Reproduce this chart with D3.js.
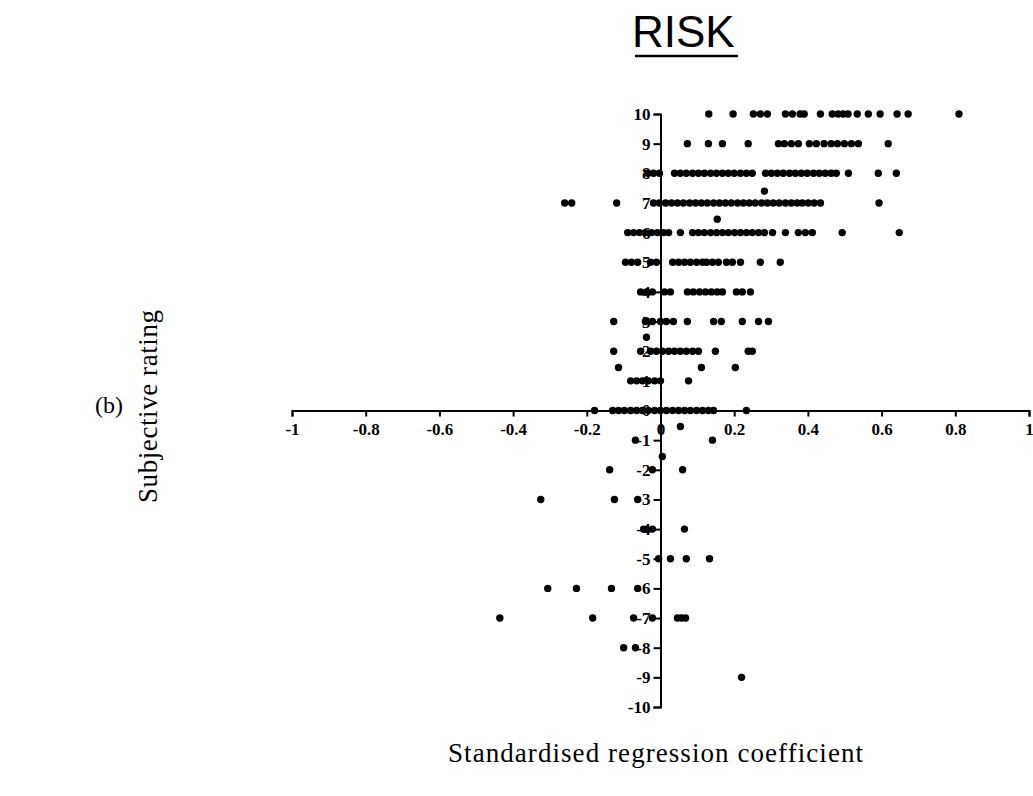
<!DOCTYPE html>
<html>
<head>
    <meta charset="utf-8">
    <title>RISK</title>
    <style>
        body {
            margin: 0;
            background-color: #ffffff;
        }

        svg {
            display: block;
        }

        .tick text {
            font-family: 'Liberation Serif', 'DejaVu Serif', serif;
            font-size: 17px;
            font-weight: bold;
            fill: #000;
        }

        .axis path, .axis line {
            stroke: #000;
            stroke-width: 2px;
        }

        .label {
            font-family: 'Liberation Serif', serif;
            fill: #000;
        }
    </style>
</head>
<body>
    <svg width="1033" height="796"></svg>

<script src="https://cdn.jsdelivr.net/npm/d3@7"></script>
<script>
    // subjective rating rows (y) and the coefficients read along each row (x)
    let ratings = [10, 9, 8, 7.4, 7, 6.45, 6, 5, 4, 3, 2.47, 2, 1.45, 1, 0, -0.54, -1, -1.55, -2, -3, -4, -5, -6, -7, -8, -9]

    let coef10 = [0.131, 0.197, 0.252, 0.271, 0.29, 0.339, 0.358, 0.379, 0.39, 0.434, 0.466, 0.482, 0.496, 0.509, 0.534, 0.564, 0.596, 0.642, 0.672, 0.81]
    let coef9 = [0.073, 0.130, 0.168, 0.238, 0.320, 0.336, 0.355, 0.374, 0.404, 0.423, 0.444, 0.463, 0.48, 0.499, 0.518, 0.537, 0.618]
    let coef8 = [-0.035, -0.019, -0.003, 0.038, 0.054, 0.070, 0.087, 0.103, 0.119, 0.136, 0.152, 0.168, 0.184, 0.2, 0.217, 0.233, 0.249, 0.285, 0.301, 0.317, 0.333, 0.35, 0.366, 0.382, 0.398, 0.415, 0.431, 0.447, 0.463, 0.477, 0.51, 0.591, 0.64]
    let coef7half = [0.282]
    let coef7 = [-0.26, -0.241, -0.119, -0.019, -0.003, 0.014, 0.03, 0.046, 0.062, 0.079, 0.095, 0.111, 0.127, 0.144, 0.16, 0.176, 0.192, 0.209, 0.225, 0.241, 0.257, 0.274, 0.29, 0.306, 0.322, 0.339, 0.355, 0.371, 0.385, 0.401, 0.417, 0.434, 0.593]
    let coef6half = [0.154]
    let coef6 = [-0.089, -0.073, -0.057, -0.041, -0.024, -0.008, 0.008, 0.022, 0.054, 0.087, 0.103, 0.119, 0.136, 0.152, 0.168, 0.184, 0.201, 0.217, 0.233, 0.249, 0.266, 0.282, 0.304, 0.339, 0.374, 0.393, 0.412, 0.493, 0.648]
    let coef5 = [-0.095, -0.079, -0.062, -0.027, -0.011, 0.033, 0.049, 0.065, 0.081, 0.098, 0.114, 0.125, 0.141, 0.157, 0.179, 0.195, 0.217, 0.271, 0.325]
    let coef4 = [-0.054, -0.038, -0.022, 0.011, 0.027, 0.073, 0.089, 0.106, 0.122, 0.138, 0.154, 0.168, 0.206, 0.222, 0.244]
    let coef3 = [-0.127, -0.041, -0.022, 0, 0.016, 0.035, 0.073, 0.144, 0.165, 0.222, 0.266, 0.293]
    let coef2half = [-0.038]
    let coef2 = [-0.127, -0.054, -0.027, -0.011, 0.005, 0.022, 0.038, 0.054, 0.07, 0.087, 0.103, 0.149, 0.238, 0.249]
    let coef1half = [-0.114, 0.111, 0.203]
    let coef1 = [-0.081, -0.065, -0.049, -0.033, -0.016, 0, 0.076]
    let coef0 = [-0.179, -0.13, -0.114, -0.098, -0.081, -0.065, -0.049, -0.033, -0.016, 0, 0.016, 0.033, 0.049, 0.065, 0.081, 0.098, 0.114, 0.13, 0.144, 0.233]
    let coefM0half = [0.054]
    let coefM1 = [-0.068, 0.141]
    let coefM1half = [0.005]
    let coefM2 = [-0.138, -0.022, 0.06]
    let coefM3 = [-0.325, -0.125, -0.062]
    let coefM4 = [-0.046, -0.022, 0.065]
    let coefM5 = [-0.005, 0.027, 0.07, 0.133]
    let coefM6 = [-0.306, -0.228, -0.133, -0.062]
    let coefM7 = [-0.436, -0.184, -0.073, -0.022, 0.046, 0.057, 0.068]
    let coefM8 = [-0.1, -0.068]
    let coefM9 = [0.22]

    let coefRows = [coef10, coef9, coef8, coef7half, coef7, coef6half, coef6, coef5, coef4, coef3, coef2half, coef2,
        coef1half, coef1, coef0, coefM0half, coefM1, coefM1half, coefM2, coefM3, coefM4, coefM5, coefM6, coefM7, coefM8, coefM9]

    let xTicks = [-1, -0.8, -0.6, -0.4, -0.2, 0, 0.2, 0.4, 0.6, 0.8, 1]
    let yTicks = d3.range(-10, 11)

    let points = []
    ratings.forEach((r, i) => {
        coefRows[i].forEach(c => points.push({ x: c, y: r }))
    })

    let svg = d3.select("svg")

    let x = d3.scaleLinear()
        .domain([-1, 1])
        .range([292, 1029])

    let y = d3.scaleLinear()
        .domain([-10, 10])
        .range([707, 114])

    // hyphen instead of the unicode minus
    let fmt = d => String(d).replace("\u2212", "-")

    let xAxis = svg.append("g")
        .attr("class", "x axis")
        .attr("transform", `translate(0,${y(0)})`)
        .call(d3.axisBottom(x)
            .tickValues(xTicks)
            .tickSize(6)
            .tickPadding(6)
            .tickFormat(fmt))

    let yAxis = svg.append("g")
        .attr("class", "y axis")
        .attr("transform", `translate(${x(0)},0)`)
        .call(d3.axisLeft(y)
            .tickValues(yTicks)
            .tickSize(7)
            .tickPadding(3)
            .tickFormat(fmt))

    svg.append("g")
        .selectAll("circle")
        .data(points)
        .join("circle")
        .attr("cx", d => x(d.x))
        .attr("cy", d => y(d.y))
        .attr("r", 3.7)
        .attr("fill", "#000")

    // title
    svg.append("text")
        .attr("x", 632)
        .attr("y", 47)
        .style("font-family", "'Liberation Sans', Arial, sans-serif")
        .style("font-size", "44px")
        .text("RISK")

    svg.append("line")
        .attr("x1", 635).attr("x2", 738)
        .attr("y1", 56).attr("y2", 56)
        .attr("stroke", "#000")
        .attr("stroke-width", 2.5)

    svg.append("text")
        .attr("class", "label")
        .attr("x", 448)
        .attr("y", 762)
        .attr("textLength", 415)
        .attr("lengthAdjust", "spacing")
        .style("font-size", "27px")
        .text("Standardised regression coefficient")

    svg.append("text")
        .attr("class", "label")
        .attr("transform", "translate(157,503) rotate(-90)")
        .attr("textLength", 193)
        .attr("lengthAdjust", "spacing")
        .style("font-size", "27px")
        .text("Subjective rating")

    svg.append("text")
        .attr("class", "label")
        .attr("x", 95)
        .attr("y", 413)
        .style("font-size", "24px")
        .text("(b)")
</script>
</body>
</html>
